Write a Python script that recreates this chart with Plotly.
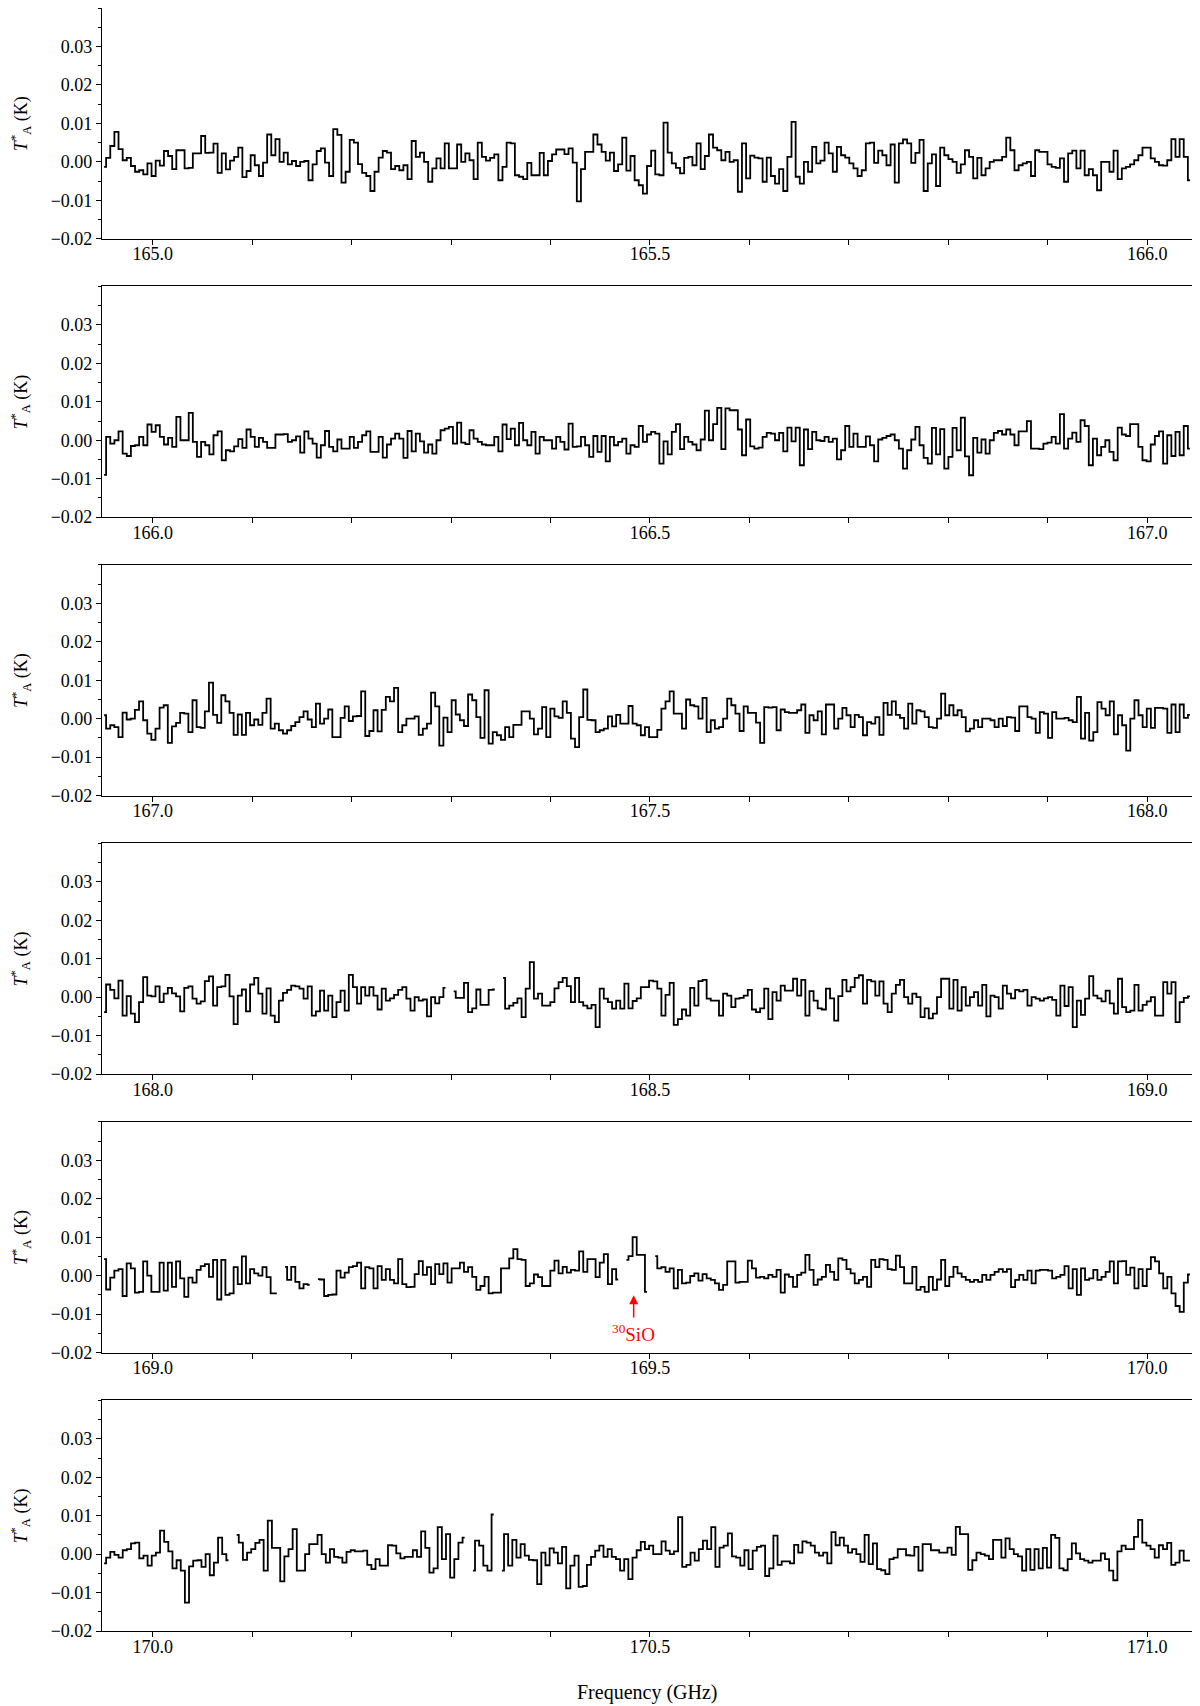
import numpy as np
import plotly.graph_objects as go
from plotly.subplots import make_subplots

# ---------------- data (antenna temperature in mK, one value per channel) ----------------
panel_starts = [165.0, 166.0, 167.0, 168.0, 169.0, 170.0]   # GHz, first labelled tick of each panel
panel_lo_offset = -0.051   # GHz, left edge relative to start
panel_hi_offset = 1.045    # GHz, right edge relative to start

x_tick_labels = [
    ["165.0", "", "", "", "", "165.5", "", "", "", "", "166.0"],
    ["166.0", "", "", "", "", "166.5", "", "", "", "", "167.0"],
    ["167.0", "", "", "", "", "167.5", "", "", "", "", "168.0"],
    ["168.0", "", "", "", "", "168.5", "", "", "", "", "169.0"],
    ["169.0", "", "", "", "", "169.5", "", "", "", "", "170.0"],
    ["170.0", "", "", "", "", "170.5", "", "", "", "", "171.0"],
]
y_tick_values = [-0.02, -0.01, 0.0, 0.01, 0.02, 0.03]

ta_165 = [-1.3, 1.0, 4.1, 7.8, 3.3, 0.4, 1.0, -1.1, -2.6, -2.2, -3.3, -0.4, -3.7, 0.3, -1.0, 2.8, 1.5, -1.9, 3.0, 3.0,
          -1.7, -1.6, 2.2, 2.2, 6.7, 2.3, 2.4, 4.7, -2.9, 2.2, -2.0, 0.3, 1.3, 3.7, -4.0, -2.4, 1.7, -0.9, -3.7, -0.2,
          7.1, 1.7, 5.9, 0.0, 2.4, -0.7, 0.2, -1.1, 0.0, 0.2, -4.8, -0.7, 2.8, 3.5, -0.2, -3.7, 8.5, 7.0, -5.4, -2.6,
          5.7, 5.0, -0.6, -2.9, -3.7, -7.6, -2.6, 1.1, 2.8, 2.4, -1.9, -1.1, -2.2, -0.9, -4.5, 5.4, 1.3, 2.4, 0.0, -5.2,
          -1.7, 0.9, -1.7, 4.8, -1.7, -1.7, 4.5, 0.0, 2.2, 0.4, -4.5, 5.0, 1.3, 0.3, 1.0, 1.9, -4.8, -1.3, 5.0, 4.8,
          -3.5, -3.9, -4.5, -0.3, -3.5, -3.5, 2.3, -3.5, 0.2, 1.9, 3.2, 3.2, 2.0, 3.5, -0.2, -10.3, -1.9, 2.6, 2.6, 7.1,
          4.5, 2.6, 0.3, 2.4, -2.4, -0.7, 6.3, -2.3, 1.5, -4.8, -6.1, -8.3, -1.1, 2.9,
          -3.3, -3.5, 10.2, 2.4, -0.4, -1.6, -3.0, 1.0, 1.3, -0.9, 4.8, -1.9, 1.5, 7.1, 3.7, 3.0, 0.4, 2.6, 0.0, 0.4,
          -7.8, 4.8, -4.3, 1.6, 1.1, 0.9, -5.2, 1.1, -3.7, -5.7, -1.9, -7.6, 1.3, 10.4, -3.9, -5.7, 0.0, -2.6, 3.9, -0.4,
          0.3, 5.0, 2.2, -2.6, 3.9, 1.7, 1.1, -0.4, -1.7, -3.7, -2.2, 4.8, 5.0, -0.3, 2.9, 1.7, -0.9, 4.5, -5.4, 4.8,
          5.8, 4.8, -0.3, 2.3, 5.7, -7.6, -0.4, 1.9, -6.3, 3.7, 1.7, 0.7, 0.0, -2.9, -0.7, 3.0, 1.3, -4.3, 1.0, -3.5,
          -1.7, 0.0, 0.4, 0.4, 1.3, 6.3, 3.0, -2.2, -0.9, -0.4, 0.0, -3.7, 3.0, 2.6, 2.6, -0.7, -1.3, -1.6, 0.9, -5.2,
          2.2, 2.9, -1.7, 2.9, -3.5, -1.9, -3.5, -7.4, 0.0, 0.0, -2.6, 2.9, -4.5, -1.7, -1.3, -0.7, 0.4, 1.7, 3.7, 3.7,
          0.9, 0.0, -0.9, -1.0, 0.4, 5.9, 1.3, 5.9, 1.3, -4.8]

ta_166 = [-9.0, 0.9, -0.9, 0.0, 2.3, -3.5, -4.1, -1.5, -1.3, 0.9, -1.3, 4.1, 2.2, 3.9, 0.9, -1.1, 0.6, -1.7, 6.1, 0.0,
          0.0, 7.1, -0.4, -4.3, -0.4, -1.3, -3.7, 1.3, 2.3, -5.2, -2.6, -2.9, -1.6, 0.3, -2.0, 2.8, 0.9, -1.7, 0.6, -0.4,
          -2.0, -2.0, 1.5, 1.5, 1.6, -0.4, 0.0, 1.0, -3.2, 2.3, 0.4, -0.9, -4.5, -1.3, 2.4, -1.7, -2.9, 0.2, -2.2, -2.2,
          0.9, -2.0, -0.4, 1.3, 2.3, -3.0, -3.0, 0.9, -4.5, -1.1, 0.4, 1.7, 0.4, -4.6, 2.4, -2.9, 1.7, -0.3, -3.2, -1.1,
          -3.5, 0.0, 2.6, 3.0, 3.5, -0.9, 4.6, -0.6, -1.0, 2.6, 0.4, -0.4, -1.1, -1.3, -1.3, 0.9, -2.9, 4.1, 0.3, 3.0,
          -1.3, 4.5, 0.0, -1.3, 2.2, -3.5, 0.9, 0.0, 0.0, -2.2, 0.9, -0.4, -2.4, 4.3, -1.7, -1.6, 0.9, -1.3, -4.3, 1.1,
          -3.0, 1.1, -5.5, 0.9, -1.3, -0.4, 0.4, -3.5, -1.3, -1.7, 3.7, -0.4, 1.5,
          2.2, 1.7, -6.1, -0.3, -3.7, 2.2, 4.2, -2.3, 0.9, -0.4, -1.1, -2.6, 0.2, 7.7, 0.0, 4.2, 8.4, -2.3, 8.3, 7.8,
          7.8, 2.8, -3.9, 5.4, -1.6, -2.2, -1.9, 0.9, 1.9, 1.7, 0.0, 1.9, -2.9, 3.3, -0.3, 3.3, -6.5, 2.8, -2.3, 2.2,
          0.0, -0.2, 0.9, -0.4, 0.4, -5.0, -2.6, 3.7, -1.7, 1.7, -1.7, -1.7, 1.0, -1.3, -5.5, 0.2, 0.6, 1.1, 1.5, 0.0,
          -2.2, -7.4, -2.6, 0.2, 3.5, -1.3, -4.6, -6.1, 3.2, -3.7, 2.9, -7.4, -4.3, 3.2, -2.6, 5.9, -4.2, -9.1, 0.6, -3.2,
          0.2, -3.5, 0.0, 1.9, 2.4, 1.5, 2.8, 1.5, -1.3, 2.3, 2.3, 5.0, -2.2, -2.2, -2.3, -0.9, -0.6, 0.9, -0.9, 6.8,
          -2.2, 0.4, 2.0, -0.4, 5.2, 3.7, -6.5, 0.4, -3.9, -1.7, 0.0, -3.0, -5.2, 3.3, 1.5, 1.1, 4.2, 4.2, -1.7, -5.2,
          -5.5, -1.1, 1.1, 2.3, -6.1, 1.3, -4.1, 2.2, -3.9, 3.7, -2.2]

ta_167 = [0.9, -2.6, -1.7, -2.2, -4.8, 1.6, -0.2, 0.0, 2.3, 4.5, -0.4, -3.9, -5.5, -2.6, 2.9, 3.5, -6.3, -2.0, -1.1, 1.5,
          1.3, -3.5, 4.8, -2.2, -2.4, 1.9, 9.4, 1.0, -1.1, 6.1, 4.5, 1.5, -4.2, 1.1, -4.2, 1.5, -1.7, -0.2, -1.6, 1.5,
          5.2, -2.6, -1.3, -3.0, -3.9, -3.0, -1.9, -0.9, 0.4, 1.9, -0.2, -2.2, 3.9, -1.3, 0.0, 2.4, -4.8, -4.8, 0.2, 3.2,
          -0.6, 0.6, 0.7, 7.1, -4.5, -3.2, 2.2, -3.3, 2.3, 5.7, 4.5, 8.0, -3.5, -1.7, 0.0, 0.0, 0.6, -4.2, -2.6, -1.3,
          6.8, 3.2, -7.0, 0.3, -3.5, 4.8, 1.1, -0.4, -1.9, 6.3, 4.8, 0.4, -5.0, 7.4, -6.5, -3.5, -4.3, -5.5, -2.2, -4.8,
          -1.6, -1.6, 1.9, 1.9, 0.0, -4.1, -2.6, 3.0, -4.8, 2.6, 0.6, 0.2, 4.5, 1.5, -5.2, -7.4, 0.4, 7.6, -0.3, -0.4,
          -3.5, -3.0, -2.6, 0.6, -2.0, 1.0, -1.3, -1.3, 3.3, -1.3, -1.7, -4.3, -2.2,
          -4.8, -4.8, -2.9, 2.6, 4.5, 7.1, 1.3, 1.3, -2.6, 5.0, 3.5, 3.2, 0.0, 5.4, -3.5, -0.4, -2.6, -2.2, 0.0, 5.2,
          3.5, 1.3, -3.2, 3.2, 1.5, 1.5, -1.0, -6.3, 3.0, 2.9, 3.0, -3.0, 2.4, 1.7, 1.5, 1.5, 2.2, 3.7, -3.7, 0.9,
          -0.4, 1.9, -4.1, 3.7, 3.7, -2.6, 0.0, 2.8, 0.9, -2.2, 1.0, 0.4, -4.3, -0.9, -1.3, 0.4, -4.2, 4.1, 1.0, 4.5,
          1.0, 0.2, -2.6, 3.9, -1.3, 2.2, 1.9, 0.4, -2.2, -2.4, 0.0, 6.5, 0.9, 3.5, 0.9, 2.2, 0.4, -3.3, -2.6, -0.4,
          -2.2, 0.0, 0.0, -0.4, -2.2, 0.0, -1.9, 0.4, 0.3, -3.2, 3.2, 3.2, 0.4, 0.0, -3.7, 1.7, 1.3, -5.0, 1.7, 0.0,
          0.0, 0.2, -0.4, -0.9, 5.7, -5.2, 1.5, -5.7, -3.5, 4.3, 2.6, 0.9, 4.5, -4.1, 0.9, -1.7, -8.3, 0.0, 4.8, 0.9,
          -2.2, 2.6, -2.4, 2.8, 2.8, 2.6, -3.7, 3.7, -3.5, 3.7, 0.2, 1.0]

ta_168 = [-3.9, 3.3, 1.9, -0.3, 4.3, -4.8, 0.3, -4.3, -6.5, -1.3, 5.2, 0.4, 0.2, 2.8, -1.3, 0.9, 2.4, 1.0, 0.2, -3.7,
          2.4, 2.8, -0.4, -1.7, -1.1, 4.2, 5.4, -2.2, 2.6, 2.8, 5.8, 0.2, -7.0, 0.4, 2.0, -3.7, 3.3, 5.0, 0.9, -4.3,
          2.3, -4.8, -6.5, -0.9, 1.1, 1.9, 3.0, 2.8, 2.2, -0.4, 2.8, -4.8, -3.7, 1.7, -3.5, 0.4, -5.2, -1.3, 1.7, -3.5,
          5.8, 2.6, -1.7, 2.6, 0.4, 2.6, 0.4, -3.2, 2.2, -0.9, -0.3, 0.6, 1.9, 2.6, -0.4, -3.5, 0.0, -0.9, -0.6, -5.0,
          0.0, -1.6, 0.0, 2.4, None, 1.5, -0.2, -0.2, 3.7, -3.9, -2.9, 2.0, -2.0, -2.0, 1.9, 2.0, None, 5.0, -3.0, -2.2,
          -1.5, -0.3, -5.2, 2.2, 9.1, -0.4, 0.9, -2.2, -2.2, -1.3, 2.3, 3.9, 5.0, 2.9, -1.3, 5.0, -1.3, -2.2, -2.9, -2.0,
          -7.8, 2.2, -0.4, -1.3, -3.0, -0.9, -3.0, 3.5, -2.9, -1.0, -0.3, 2.6, 2.6,
          4.3, 4.1, 2.2, -4.8, 0.6, 3.7, -7.2, -5.7, -3.2, -4.8, 2.4, -2.2, 4.2, 4.5, -0.4, -0.9, -0.9, -4.8, 0.9, 0.4,
          -2.6, -0.4, -0.2, 0.4, 1.9, -3.2, -3.9, -2.9, 2.2, -5.7, 1.3, -0.9, 3.0, 1.7, 1.7, 4.8, 0.4, 4.5, -4.8, 1.6,
          -0.9, -2.9, -3.2, 2.2, -0.3, -6.1, 0.3, 4.5, 1.5, 2.6, 5.0, 5.7, -1.7, 4.5, 4.1, 0.4, 4.1, -1.7, -3.9, 0.9,
          3.2, 4.5, 0.0, -1.7, 0.9, 0.0, -5.2, -2.9, -5.5, -4.3, 0.0, 4.8, 4.8, -3.0, 4.5, -3.5, 2.6, -2.2, 0.0, 1.3,
          -2.2, 3.2, -5.0, 0.4, 0.0, -3.0, 3.0, 0.9, -0.3, 1.9, 1.5, 1.9, -2.2, 0.0, -0.4, -0.9, -0.3, 0.0, -0.7, -4.8,
          3.0, -2.3, 2.6, -7.8, -0.9, -4.6, -0.4, 5.5, 0.4, -0.3, -1.1, 1.7, -1.6, -4.3, 4.8, -2.6, -3.9, -3.5, 3.2, -3.5,
          -2.0, -1.1, 0.0, -4.8, -4.8, 3.9, 0.9, 3.9, -6.5, -1.3, -0.2, 0.2]

ta_169 = [4.3, -3.6, -0.5, 1.3, 1.7, -5.3, 3.2, 1.9, -4.4, -4.2, 3.7, 0.0, -4.2, -4.2, 3.4, -3.9, 3.4, -2.9, 3.7, -0.7,
          -5.5, -0.5, -1.8, 1.5, 2.5, 3.0, -0.3, 4.1, -6.2, 4.1, -5.0, -4.6, 2.2, -2.2, 5.0, -2.0, 1.7, 0.6, 0.0, 2.2,
          -0.4, -4.6, -4.6, None, 2.3, -1.1, 2.3, -1.6, -3.3, -2.2, -2.4, None, -0.9, -1.0, -5.3, -5.0, -4.9, 1.3, -0.5, 0.8,
          2.2, 2.5, 3.4, -3.3, 2.2, 1.9, -3.3, 2.5, -1.1, 1.7, -1.1, -2.0, 4.3, -2.2, -3.0, -2.9, 0.4, 3.8, 0.2, 2.2,
          -2.2, 3.0, 0.4, 3.2, -1.8, 1.9, 1.9, 3.4, 1.0, 2.2, -0.3, -3.7, -2.7, -0.3, -4.6, -4.4, -4.4, 1.9, 1.9, 4.5,
          6.9, 4.3, 4.1, -2.7, -2.0, 0.3, -0.4, -2.7, -2.7, 1.3, 3.9, 0.6, 2.3, 0.8, 1.5, 1.3, 6.3, 1.0, 4.3, 4.3,
          -0.4, 3.4, 5.6, -2.2, 1.7, -1.0, None, 4.1, 5.1, 10.0, 5.4, 5.4, -4.2, None,
          5.1, 1.9, 2.2, 1.0, 1.9, -3.3, 1.5, -2.0, -1.8, -0.1, 0.6, -1.3, 0.4, -0.7, -1.1, -2.0, -3.7, -2.4, 3.7, 3.7,
          -1.8, -1.6, -1.6, 3.9, 1.9, -0.5, -0.3, -0.7, 0.2, -0.3, 1.5, -4.4, 0.3, -0.3, -2.9, 0.2, 0.8, 5.4, 1.5, -2.4,
          -1.0, -0.3, 2.8, 1.0, -1.1, 4.5, 4.1, 1.7, 0.6, -2.0, -1.1, -0.3, -2.9, 4.1, 2.2, 4.3, 4.1, 1.7, 1.5, 5.2,
          2.2, -2.0, -2.0, 2.3, -3.7, -2.9, -4.2, -0.3, -3.7, -1.0, 4.1, -2.7, -0.3, 2.3, 0.6, -0.3, -1.1, -1.6, -1.1, -1.6,
          0.2, -1.1, 0.2, 1.0, 1.7, 1.0, 1.7, -3.0, -1.1, 0.2, -1.1, 1.3, -2.0, 1.3, 1.5, 1.5, 1.3, -0.7, -0.3, 0.2,
          2.5, -3.3, 1.7, -5.0, 1.9, -1.1, -0.7, 1.5, -1.1, -0.3, 1.0, 3.7, -2.0, 3.7, 3.8, 0.2, 2.1, -3.3, 1.7, -2.7,
          1.7, 4.8, 3.7, 0.6, -3.3, -0.3, -4.6, -7.9, -9.4, -1.8, 0.3]

ta_170 = [-2.4, -0.9, 0.6, -0.2, -0.9, 1.0, 1.3, 2.8, 3.0, -1.1, -0.4, -3.0, -0.4, 0.4, 6.1, 3.2, 0.7, -3.7, -1.6, -4.3,
          -12.6, -3.2, -1.7, -1.6, -3.3, 0.0, -5.5, -2.2, 4.3, 0.0, -1.6, None, 5.0, 3.0, -1.5, 0.4, 1.3, 2.9, 3.7, -4.3,
          8.7, 1.6, 1.6, -7.1, -0.6, 1.3, 6.5, -4.3, -4.3, 0.0, 2.6, 2.6, 5.0, 0.0, -2.2, 1.3, -0.7, -0.9, -2.2, 0.6,
          1.0, 0.7, 0.7, 0.9, -2.8, -3.9, -1.3, -3.0, -3.0, 2.3, 2.2, 0.2, -1.1, -0.7, -0.7, 1.0, -0.7, 5.9, 1.6, -4.8,
          -3.7, 7.0, -1.3, 5.2, -6.1, -1.3, 3.0, 4.3, None, -4.3, 3.5, 2.2, -3.0, -4.3, 10.3, None, -4.3, 5.2, -3.0, 3.7,
          -0.9, 2.6, -0.4, -1.5, -1.6, -7.8, 0.4, -2.9, 1.5, 0.4, -2.4, 1.9, -8.9, -3.0, -0.4, -8.5, -8.3, -2.8, -0.7, 0.9,
          2.2, -0.7, 1.3, -0.7, -1.3, -4.3, -1.3, -6.5, -0.9, 1.0, 3.2, 1.3,
          2.2, 0.0, 0.0, 3.3, 0.9, 0.0, 0.7, 9.6, -3.3, -2.8, 0.4, -1.7, 1.3, 3.5, 1.3, 7.0, -3.3, 1.7, 2.2, 5.4,
          -0.6, -0.9, -3.0, 1.0, -3.9, 0.9, 1.9, 2.2, -5.7, -3.7, 4.8, -2.8, -1.9, -1.9, -2.4, 2.4, 0.4, 3.3, 3.0, 2.2,
          0.4, -0.4, 0.4, -2.4, 5.7, 2.3, 4.3, 2.2, 0.4, 1.3, 0.0, -2.0, 5.0, -2.6, 2.8, -3.9, -4.2, -5.2, -1.3, -0.9,
          1.3, 1.3, -0.3, -0.4, 1.9, -4.3, 2.6, 2.6, 1.0, 1.0, 0.4, 0.4, 1.7, -0.2, 7.1, 5.2, 5.2, -4.1, -1.6, 0.4,
          0.0, -0.4, -1.3, 3.7, 3.7, -0.9, 4.1, 1.3, 0.0, -0.6, -4.3, 1.3, -4.1, 1.3, -3.7, 1.6, -3.5, 5.0, 4.2, -3.7,
          -4.2, -1.3, 2.8, 0.2, -1.3, -1.7, -2.2, -1.7, -1.7, 0.2, -1.3, -4.3, -6.8, 0.7, 2.2, 1.3, 1.3, 4.5, 8.9, 3.0,
          2.2, 1.3, -0.9, 2.3, 1.3, 2.9, -2.8, -2.2, 0.9, -1.7, -1.7]

spectra_mK = [ta_165, ta_166, ta_167, ta_168, ta_169, ta_170]

line_label = "<sup>30</sup>SiO"
line_freq = 169.4836          # GHz
line_arrow_tip = -0.0051      # K
line_arrow_tail = -0.0113     # K
line_text_y = -0.0150         # K

# ---------------- figure ----------------
FONT = "Liberation Serif"
TICK_SIZE = 18
n_rows = len(panel_starts)
fig = make_subplots(rows=n_rows, cols=1, vertical_spacing=0.02945)

for i, (start, vals) in enumerate(zip(panel_starts, spectra_mK)):
    r = i + 1
    lo = start + panel_lo_offset
    hi = start + panel_hi_offset
    y = np.array(vals, dtype=float) / 1000.0
    n = len(y)
    x = lo + (np.arange(n) + 0.5) * (hi - lo) / n
    fig.add_trace(go.Scatter(x=x, y=y, mode="lines", line=dict(color="black", width=1.8, shape="hvh"),
                             connectgaps=False, hoverinfo="skip"), row=r, col=1)
    tickvals = [round(start + 0.1 * j, 1) for j in range(len(x_tick_labels[i]))]
    fig.update_xaxes(range=[lo, hi], tickvals=tickvals, ticktext=x_tick_labels[i],
                     ticks="outside", ticklen=5, tickwidth=1, tickcolor="black",
                     showline=True, linecolor="black", linewidth=1.2, mirror=True,
                     showgrid=False, zeroline=False, ticklabelstandoff=-6,
                     tickfont=dict(family=FONT, size=TICK_SIZE, color="black"), row=r, col=1)
    fig.update_yaxes(range=[-0.02, 0.04], tickvals=y_tick_values, tickformat=".2f",
                     ticks="outside", ticklen=5, tickwidth=1, tickcolor="black",
                     minor=dict(dtick=0.005, tick0=0, ticks="outside", ticklen=3, tickcolor="black", showgrid=False),
                     showline=True, linecolor="black", linewidth=1.2, mirror=True,
                     showgrid=False, zeroline=False,
                     tickfont=dict(family=FONT, size=TICK_SIZE, color="black"), row=r, col=1)
    yref = "y" if r == 1 else f"y{r}"
    fig.add_annotation(text="<i>T</i><sup>*</sup><sub>A</sub> (K)", textangle=-90,
                       xref="paper", x=-0.0745, xanchor="center",
                       yref=f"{yref} domain", y=0.5, yanchor="middle",
                       showarrow=False, font=dict(family=FONT, size=18, color="black"))

# x-axis title below the last panel
fig.add_annotation(text="Frequency (GHz)", xref="paper", x=0.5, xanchor="center",
                   yref=f"y{n_rows} domain", y=0, yanchor="middle", yshift=-61,
                   showarrow=False, font=dict(family=FONT, size=20, color="black"))

# 30SiO marker in panel 5
fig.add_annotation(x=line_freq, y=line_arrow_tip, xref="x5", yref="y5",
                   ax=line_freq, ay=line_arrow_tail, axref="x5", ayref="y5",
                   text="", showarrow=True, arrowhead=2, arrowsize=1.2, arrowwidth=1.5, arrowcolor="red")
fig.add_annotation(x=line_freq, y=line_text_y, xref="x5", yref="y5", text=line_label,
                   showarrow=False, font=dict(family=FONT, size=19, color="red"))

# page body adds an 8 px offset, so the figure is 8 px smaller and its margins shifted
fig.update_layout(width=1192, height=1698, margin=dict(l=94, r=8, t=0, b=75),
                  plot_bgcolor="white", paper_bgcolor="white", showlegend=False,
                  font=dict(family=FONT, size=TICK_SIZE, color="black"))

fig.write_html("out.html")
